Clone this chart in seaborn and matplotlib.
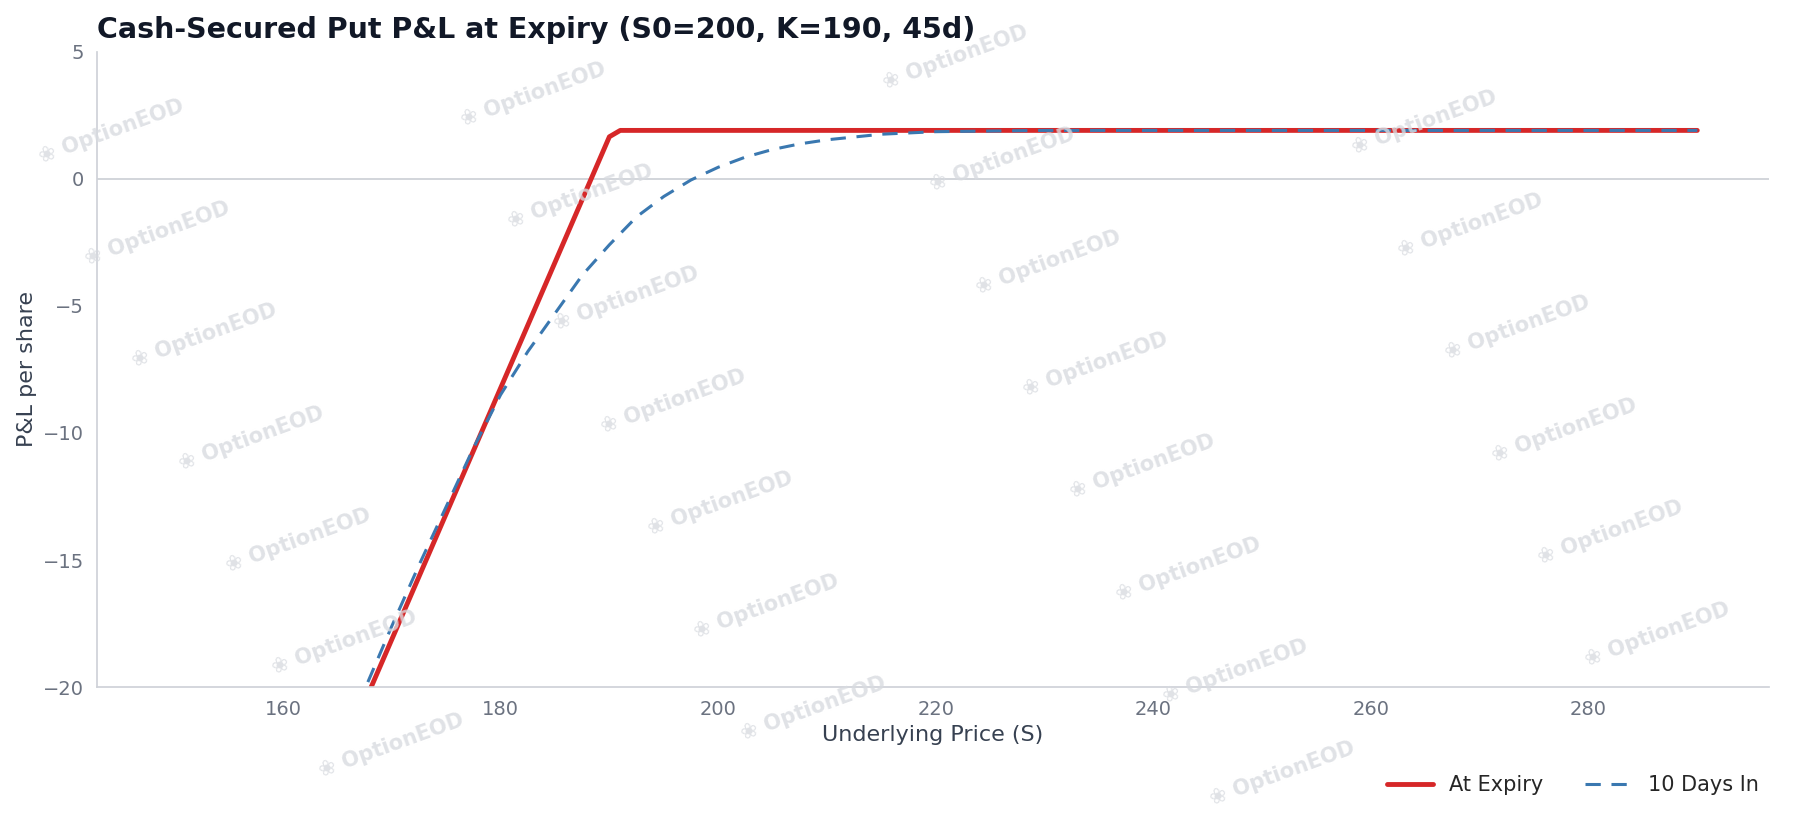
import matplotlib
matplotlib.use("Agg")
import matplotlib.pyplot as plt
import seaborn as sns

expiry_s = [168, 190, 191, 290]
expiry_pnl = [-20.1, 1.65, 1.9, 1.9]
days_s = [167.8, 170, 172.5, 175, 177.5, 180, 182.5, 185, 187.5, 190, 192.5, 195, 197.5, 200,
          202.5, 205, 207.5, 210, 215, 220, 230, 290]
days_pnl = [-19.8, -17.6, -15.2, -12.9, -10.6, -8.5, -6.8, -5.3, -3.8, -2.6, -1.5, -0.7, -0.05, 0.45,
            0.85, 1.15, 1.37, 1.53, 1.75, 1.85, 1.9, 1.9]

sns.set_theme(style="white")
plt.rcParams['font.family'] = ['DejaVu Sans']
fig = plt.figure(figsize=(17.96, 8.19), dpi=100)
ax = fig.add_axes([0.054, 0.161, 0.931, 0.776])

# watermarks
for r in range(0, 8):
    for c in range(0, 4):
        x = 0.02 + c * 0.235 + r * 0.026
        y = 0.84 - r * 0.125 + c * 0.045
        if 0.0 < x < 0.9 and 0.03 < y < 0.93:
            fig.text(x, y, "\u2740 OptionEOD", rotation=20, color="#d8dbe0", alpha=0.8,
                     fontsize=15, fontweight="bold", ha="left", va="center", zorder=0)

ax.axhline(0, color="#cfd2d8", lw=1.3, zorder=1)
sns.lineplot(x=expiry_s, y=expiry_pnl, ax=ax, color="#d62728", lw=3.5, label="At Expiry", sort=False)
sns.lineplot(x=days_s, y=days_pnl, ax=ax, color="#3a78b0", lw=2.2, ls=(0, (5, 3.5)), label="10 Days In", sort=False)

ax.set_xlim(142.9, 296.6)
ax.set_ylim(-20, 5)
ax.set_xticks([160, 180, 200, 220, 240, 260, 280])
ax.set_yticks([-20, -15, -10, -5, 0, 5])
ax.set_yticklabels(["\u221220", "\u221215", "\u221210", "\u22125", "0", "5"])
ax.tick_params(colors="#6b7280", labelsize=14)
ax.set_xlabel("Underlying Price (S)", fontsize=16, color="#374151")
ax.set_ylabel("P&L per share", fontsize=16, color="#374151")
for s in ["top", "right"]:
    ax.spines[s].set_visible(False)
for s in ["left", "bottom"]:
    ax.spines[s].set_color("#cfd2d8")
ax.set_title("Cash-Secured Put P&L at Expiry (S0=200, K=190, 45d)", loc="left",
             fontsize=20.5, fontweight="bold", color="#111827", pad=10)
ax.legend(loc="lower right", bbox_to_anchor=(1.005, -0.2), ncol=2, frameon=False,
          fontsize=15, handlelength=2.2, columnspacing=2)
fig.savefig("out.png", dpi=100)
